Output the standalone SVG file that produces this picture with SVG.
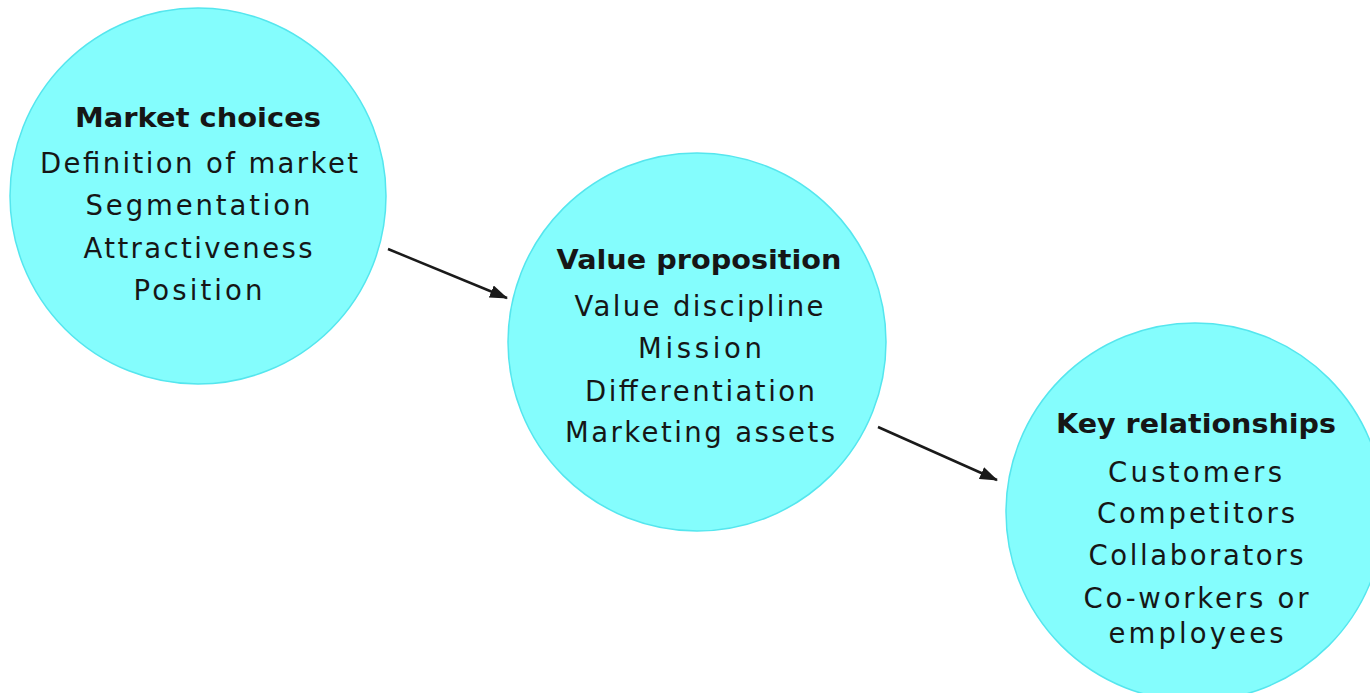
<svg xmlns="http://www.w3.org/2000/svg" width="1370" height="693" viewBox="0 0 1370 693">
  <defs>
    <marker id="arrowhead" markerWidth="18" markerHeight="13" refX="17" refY="6.5" orient="auto" markerUnits="userSpaceOnUse" viewBox="0 0 18 13">
      <path d="M0,0 L18,6.5 L0,13 Z" fill="#1a1a1a"/>
    </marker>
    <style>
      .bubble { fill: #84fdfd; stroke: #55e6ee; stroke-width: 1.5; }
      .title { font-family: "DejaVu Sans", "Liberation Sans", sans-serif; font-size: 27px; font-weight: bold; fill: #161616; text-anchor: middle; }
      .item { font-family: "DejaVu Sans", "Liberation Sans", sans-serif; font-size: 27.5px; fill: #161616; text-anchor: middle; }
      .link { stroke: #1a1a1a; stroke-width: 2.5; fill: none; }
    </style>
  </defs>
  <rect width="1370" height="693" fill="#ffffff"/>

  <g id="market-choices">
    <circle class="bubble" cx="198" cy="196" r="188"/>
    <text class="title" x="198" y="127" textLength="246" lengthAdjust="spacingAndGlyphs">Market choices</text>
    <text class="item" x="199" y="173" textLength="318" lengthAdjust="spacing">Definition of market</text>
    <text class="item" x="198" y="215" textLength="225" lengthAdjust="spacing">Segmentation</text>
    <text class="item" x="198" y="258" textLength="229" lengthAdjust="spacing">Attractiveness</text>
    <text class="item" x="198" y="300" textLength="129" lengthAdjust="spacing">Position</text>
  </g>

  <g id="value-proposition">
    <circle class="bubble" cx="697" cy="342" r="189"/>
    <text class="title" x="699" y="269" textLength="285" lengthAdjust="spacingAndGlyphs">Value proposition</text>
    <text class="item" x="699" y="316" textLength="249" lengthAdjust="spacing">Value discipline</text>
    <text class="item" x="700" y="358" textLength="124" lengthAdjust="spacing">Mission</text>
    <text class="item" x="700" y="401" textLength="230" lengthAdjust="spacing">Differentiation</text>
    <text class="item" x="700" y="442" textLength="270" lengthAdjust="spacing">Marketing assets</text>
  </g>

  <g id="key-relationships">
    <circle class="bubble" cx="1195" cy="512" r="189"/>
    <text class="title" x="1196" y="433" textLength="280" lengthAdjust="spacingAndGlyphs">Key relationships</text>
    <text class="item" x="1195" y="482" textLength="174" lengthAdjust="spacing">Customers</text>
    <text class="item" x="1196" y="523" textLength="198" lengthAdjust="spacing">Competitors</text>
    <text class="item" x="1196" y="565" textLength="215" lengthAdjust="spacing">Collaborators</text>
    <text class="item" x="1196" y="608" textLength="225" lengthAdjust="spacing">Co-workers or</text>
    <text class="item" x="1196" y="643" textLength="175" lengthAdjust="spacing">employees</text>
  </g>

  <g id="connectors">
    <line class="link" x1="388" y1="249" x2="507" y2="298" marker-end="url(#arrowhead)"/>
    <line class="link" x1="878" y1="427" x2="997" y2="480" marker-end="url(#arrowhead)"/>
  </g>
</svg>
